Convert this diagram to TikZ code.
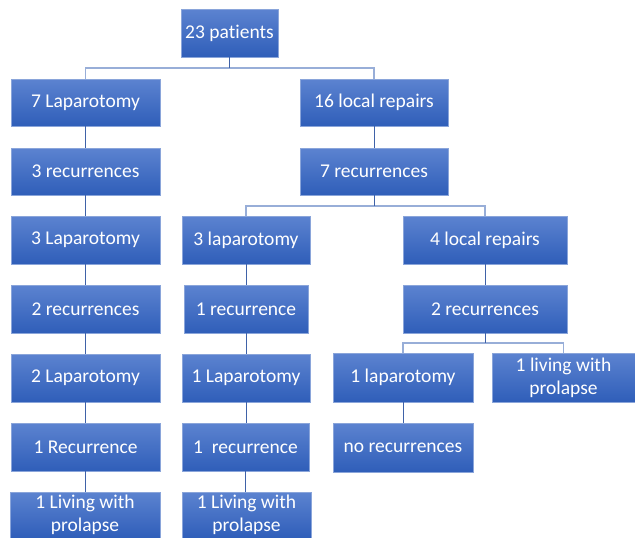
\documentclass[tikz,border=0pt]{standalone}
\usepackage{fontspec}
\setmainfont[Ligatures=NoCommon]{Carlito}
\definecolor{boxtop}{HTML}{5C83D0}
\definecolor{boxbot}{HTML}{2F5EB9}
\definecolor{boxedge}{HTML}{8AA5DA}
\definecolor{darkline}{HTML}{3F62A8}
\definecolor{lightline}{HTML}{98AED8}
\begin{document}
\begin{tikzpicture}[x=1pt,y=-1pt,
  box/.style={draw=boxedge, line width=0.8pt, top color=boxtop, bottom color=boxbot,
    text=white, font=\fontsize{19.5}{23}\selectfont, align=center,
    inner sep=0pt, minimum height=47pt},
  dk/.style={draw=darkline, line width=1pt},
  lt/.style={draw=lightline, line width=1.2pt}]
\useasboundingbox (0,0) rectangle (635,538);
% nodes
\node[box, minimum width=97pt, minimum height=48pt] (p23) at (229.5,33) {23 patients};
\node[box, minimum width=149pt] (lap7) at (85.5,102.5) {7 Laparotomy};
\node[box, minimum width=148pt] (loc16) at (374,102.5) {16 local repairs};
\node[box, minimum width=149pt] (rec3) at (85.5,171.5) {3 recurrences};
\node[box, minimum width=148pt] (rec7) at (374,171.5) {7 recurrences};
\node[box, minimum width=149pt, minimum height=48pt] (lap3) at (85.5,240) {3 Laparotomy};
\node[box, minimum width=128pt, minimum height=48pt] (lap3m) at (246,240) {3 laparotomy};
\node[box, minimum width=164pt, minimum height=48pt] (loc4) at (485,240) {4 local repairs};
\node[box, minimum width=149pt, minimum height=48pt] (rec2) at (85.5,309) {2 recurrences};
\node[box, minimum width=124pt, minimum height=48pt] (rec1m) at (246,309) {1 recurrence};
\node[box, minimum width=164pt, minimum height=48pt] (rec2r) at (485,309) {2 recurrences};
\node[box, minimum width=149pt, minimum height=48pt] (lap2) at (85.5,378) {2 Laparotomy};
\node[box, minimum width=128pt, minimum height=48pt] (lap1m) at (246,378) {1 Laparotomy};
\node[box, minimum width=140pt, minimum height=49pt] (lap1r) at (403,377.5) {1 laparotomy};
\node[box, minimum width=143pt, minimum height=49pt] (liv1r) at (563.5,377.5) {\raisebox{-2pt}{\parbox{140pt}{\centering 1 living with\\prolapse}}};
\node[box, minimum width=149pt, minimum height=48pt] (rec1) at (85.5,447) {1 Recurrence};
\node[box, minimum width=127pt, minimum height=48pt] (rec1m2) at (245.5,447) {1\ \ recurrence};
\node[box, minimum width=140pt, minimum height=49pt] (norec) at (403,447.5) {no recurrences};
\node[box, minimum width=150pt, minimum height=46pt] (liv1) at (85,515) {\raisebox{-2pt}{\parbox{146pt}{\centering 1 Living with\\prolapse}}};
\node[box, minimum width=129pt, minimum height=46pt] (liv1m) at (246.5,515) {\raisebox{-2pt}{\parbox{126pt}{\centering 1 Living with\\prolapse}}};
% branch points
\coordinate (b1) at (229.5,68);
\coordinate (b2) at (374,206);
\coordinate (b3) at (485,343);
% connectors
\draw[lt] (lap7.north) |- (b1) -| (loc16.north);
\draw[dk] (p23.south) -- (b1);
\draw[lt] (lap3m.north) |- (b2) -| (loc4.north);
\draw[dk] (rec7.south) -- (b2);
\draw[lt] (lap1r.north) |- (b3) -| (liv1r.north);
\draw[dk] (rec2r.south) -- (b3);
\draw[dk] (lap7) -- (rec3);
\draw[dk] (rec3) -- (lap3);
\draw[dk] (lap3) -- (rec2);
\draw[dk] (rec2) -- (lap2);
\draw[dk] (lap2) -- (rec1);
\draw[dk] (rec1.south) -- (rec1.south |- liv1.north);
\draw[dk] (loc16) -- (rec7);
\draw[dk] (lap3m) -- (rec1m);
\draw[dk] (rec1m) -- (lap1m);
\draw[dk] (lap1m.south) -- (lap1m.south |- rec1m2.north);
\draw[dk] (rec1m2.south) -- (rec1m2.south |- liv1m.north);
\draw[dk] (loc4) -- (rec2r);
\draw[dk] (lap1r) -- (norec);
\end{tikzpicture}
\end{document}
